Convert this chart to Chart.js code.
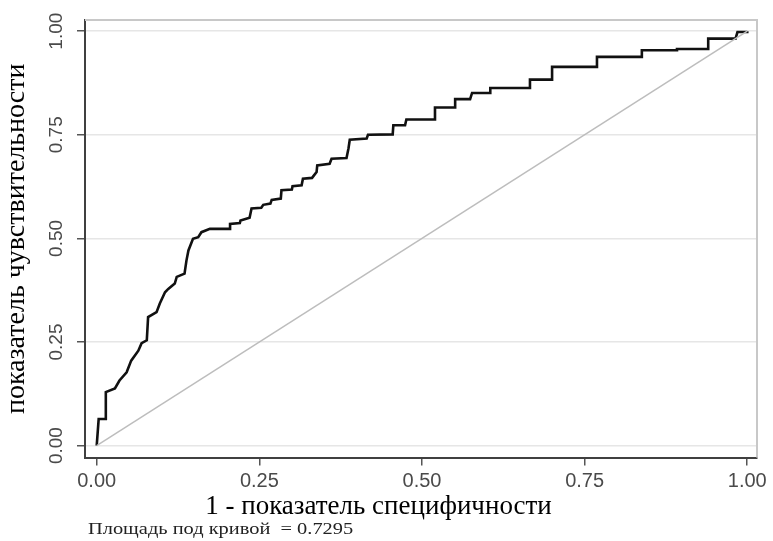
<!DOCTYPE html>
<html>
<head>
<meta charset="utf-8">
<script src="https://cdn.jsdelivr.net/npm/chart.js@4.4.1/dist/chart.umd.min.js"></script>
<style>
  body { margin: 0; background: #fff; }
  #wrap { width: 773px; height: 541px; }
</style>
</head>
<body>
<div id="wrap"><canvas id="chart" width="773" height="541"></canvas></div>
<script>
// ROC curve (1 - specificity, sensitivity)
const rocFpr = [0.000, 0.003, 0.014, 0.014, 0.028, 0.035, 0.046, 0.053, 0.064, 0.069,
                0.077, 0.079, 0.092, 0.097, 0.105, 0.110, 0.120, 0.123, 0.135, 0.138,
                0.141, 0.148, 0.156, 0.161, 0.174, 0.205, 0.205, 0.220, 0.221, 0.235,
                0.238, 0.253, 0.256, 0.267, 0.269, 0.283, 0.284, 0.300, 0.301, 0.315,
                0.317, 0.331, 0.334, 0.338, 0.339, 0.358, 0.361, 0.384, 0.387, 0.389,
                0.415, 0.417, 0.455, 0.456, 0.474, 0.476, 0.520, 0.520, 0.551, 0.551,
                0.574, 0.577, 0.605, 0.605, 0.666, 0.666, 0.700, 0.700, 0.769, 0.769,
                0.838, 0.838, 0.892, 0.892, 0.940, 0.940, 0.982, 0.985, 1.000, 1.000];
const rocTpr = [0.000, 0.064, 0.064, 0.129, 0.138, 0.157, 0.177, 0.205, 0.229, 0.247,
                0.254, 0.310, 0.322, 0.343, 0.370, 0.378, 0.391, 0.407, 0.415, 0.447,
                0.471, 0.499, 0.503, 0.515, 0.523, 0.523, 0.535, 0.537, 0.543, 0.550,
                0.572, 0.574, 0.581, 0.584, 0.593, 0.596, 0.616, 0.618, 0.626, 0.628,
                0.644, 0.646, 0.652, 0.660, 0.676, 0.680, 0.692, 0.694, 0.717, 0.738,
                0.741, 0.750, 0.751, 0.773, 0.773, 0.787, 0.787, 0.816, 0.816, 0.836,
                0.836, 0.851, 0.851, 0.863, 0.863, 0.883, 0.883, 0.914, 0.914, 0.938,
                0.938, 0.954, 0.954, 0.957, 0.957, 0.982, 0.982, 0.998, 0.998, 1.000];

// reference (chance) line
const refFpr = [0, 1];
const refTpr = [0, 1];

const tickVals = [0, 0.25, 0.5, 0.75, 1];
const tickLabels = ['0.00', '0.25', '0.50', '0.75', '1.00'];

const xTitle = '1 - показатель специфичности';
const yTitle = 'показатель чувствительности';
const areaNote = 'Площадь под кривой  = 0.7295';

const toPoints = (xs, ys) => xs.map((x, i) => ({ x: x, y: ys[i] }));
const setTicks = s => { s.ticks = tickVals.map(v => ({ value: v })); };
const tickText = (v) => tickLabels[tickVals.indexOf(v)] ?? '';

// light frame on top/right and the note under the axis title
const extras = {
  id: 'extras',
  beforeDatasetsDraw(chart) {
    const { ctx, chartArea: a } = chart;
    ctx.save();
    ctx.strokeStyle = '#c8c8c8';
    ctx.lineWidth = 2;
    ctx.beginPath();
    ctx.moveTo(a.left, a.top);
    ctx.lineTo(a.right, a.top);
    ctx.lineTo(a.right, a.bottom);
    ctx.stroke();
    ctx.restore();
  },
  afterDraw(chart) {
    const ctx = chart.ctx;
    ctx.save();
    ctx.font = '17px "Liberation Serif", serif';
    ctx.fillStyle = '#222';
    ctx.textBaseline = 'middle';
    ctx.translate(88, 530);
    ctx.scale(1.2, 1);   // the note is drawn a bit wide in the original
    ctx.fillText(areaNote, 0, 0);
    ctx.restore();
  }
};

const ctx = document.getElementById('chart').getContext('2d');
new Chart(ctx, {
  type: 'line',
  data: {
    datasets: [
      {
        data: toPoints(refFpr, refTpr),
        borderColor: '#bdbdbd',
        borderWidth: 1.5,
        pointRadius: 0,
        fill: false
      },
      {
        data: toPoints(rocFpr, rocTpr),
        borderColor: '#111',
        borderWidth: 2.6,
        pointRadius: 0,
        fill: false,
        tension: 0
      }
    ]
  },
  options: {
    responsive: false,
    animation: false,
    layout: { padding: { top: 20, right: 16, bottom: 18, left: 0 } },
    plugins: {
      legend: { display: false },
      tooltip: { enabled: false },
      subtitle: {
        display: true,
        position: 'bottom',
        text: xTitle,
        color: '#000',
        font: { family: '"Liberation Serif", serif', size: 27, weight: 'normal' },
        padding: { top: 1, bottom: 0 }
      }
    },
    scales: {
      x: {
        type: 'linear',
        min: -0.018,
        max: 1.015,
        afterBuildTicks: setTicks,
        afterFit: s => { s.height = 32; s.paddingLeft = 0; s.paddingRight = 0; },
        grid: { drawOnChartArea: false, tickLength: 8, tickColor: '#555', lineWidth: 1.5 },
        border: { color: '#404040', width: 2 },
        ticks: {
          padding: 4,
          maxRotation: 0,
          color: '#4a4a4a',
          font: { family: '"Liberation Sans", Arial, sans-serif', size: 20 },
          callback: tickText
        }
      },
      y: {
        type: 'linear',
        min: -0.029,
        max: 1.027,
        afterBuildTicks: setTicks,
        afterFit: s => { s.width = 85; s.paddingTop = 0; s.paddingBottom = 0; },
        grid: { color: '#e6e6e6', lineWidth: 1.5, tickLength: 8, tickColor: '#555' },
        border: { color: '#404040', width: 2 },
        title: {
          display: true,
          text: yTitle,
          color: '#000',
          font: { family: '"Liberation Serif", serif', size: 28 },
          padding: { top: 0, bottom: 0 }
        },
        ticks: {
          padding: 2,
          minRotation: 90,
          maxRotation: 90,
          crossAlign: 'center',
          color: '#4a4a4a',
          font: { family: '"Liberation Sans", Arial, sans-serif', size: 19 },
          callback: tickText
        }
      }
    }
  },
  plugins: [extras]
});
</script>
</body>
</html>
